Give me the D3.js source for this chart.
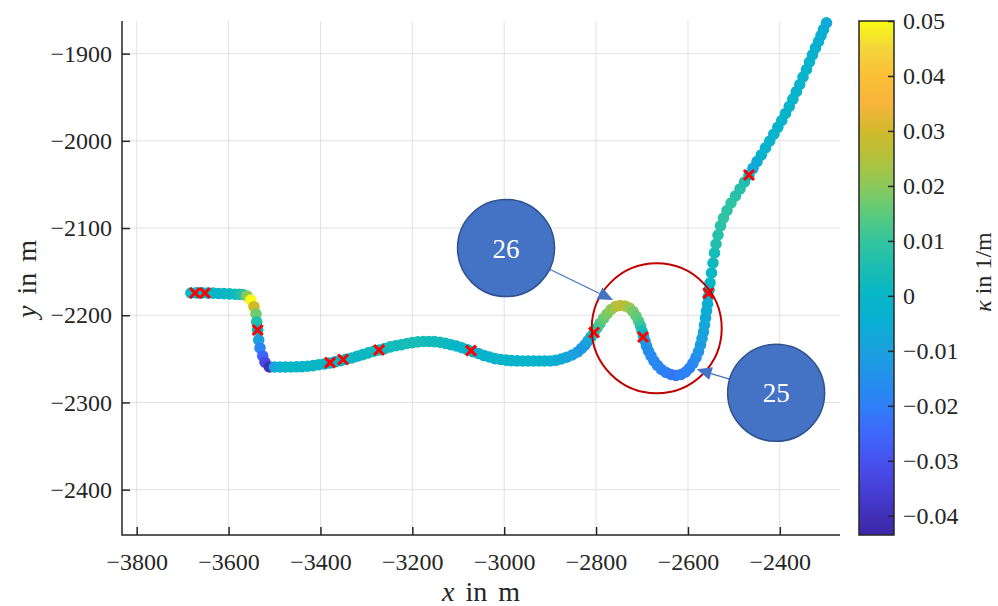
<!DOCTYPE html>
<html>
<head>
<meta charset="utf-8">
<script src="https://cdn.jsdelivr.net/npm/d3@7"></script>
<style>
body { margin: 0; background: #fff; }
svg { display: block; font-family: "Liberation Serif", "Times New Roman", serif; }
svg text { font-family: "Liberation Serif", serif !important; }
</style>
</head>
<body>
<div id="chart"></div>
<script>
// Trajectory samples: [x in m, y in m, curvature kappa in 1/m]
const track = [
	[-3682,-2174.5,0],[-3670,-2174.3,0],[-3658,-2174.3,0],[-3646,-2174.5,0],[-3634,-2174.7,0],
	[-3622,-2175.0,0],[-3610,-2175.2,0],[-3598,-2175.5,0.001],[-3586,-2175.9,0.002],[-3576,-2176.0,0.005],
	[-3568.6,-2176.2,0.008],[-3559.9,-2177.9,0.02],[-3551.8,-2182.5,0.05],[-3544.6,-2190.2,0.03],
	[-3540.3,-2198.6,0.017],[-3538.8,-2207.7,0.006],[-3536.6,-2216.9,0.0],[-3534.4,-2228.4,-0.01],
	[-3531.6,-2237.5,-0.018],[-3525.7,-2246.7,-0.026],[-3520.7,-2253.9,-0.032],[-3511.3,-2259.3,-0.04],
	[-3500,-2259.3,-0.009],[-3488,-2259.3,-0.004],[-3476,-2259.3,-0.001],[-3464,-2259.3,0],
	[-3452,-2259.1,0],[-3440,-2258.9,0],[-3428,-2258.5,0],[-3416,-2257.8,0],[-3404,-2256.8,0],
	[-3392,-2255.9,0],[-3380,-2254.8,0],[-3368,-2253.4,0],[-3356,-2252.0,0],[-3344,-2250.4,0],
	[-3332,-2249.0,0.001],[-3320,-2247.0,0.001],[-3308,-2245.2,0.001],[-3296,-2243.2,0.001],
	[-3284,-2241.3,0.002],[-3272,-2239.8,0.002],[-3260,-2238.2,0.002],[-3248,-2236.3,0.003],
	[-3236,-2235.0,0.003],[-3224,-2233.9,0.003],[-3212,-2232.4,0.004],[-3200,-2231.4,0.004],
	[-3188,-2230.6,0.004],[-3176,-2230.1,0.004],[-3164,-2230.1,0.003],[-3152,-2230.3,0.003],
	[-3140,-2230.9,0.003],[-3128,-2232.3,0.002],[-3116,-2233.8,0.001],[-3104,-2235.3,0],
	[-3092,-2237.3,-0.001],[-3080,-2239.6,-0.002],[-3068,-2241.7,-0.003],[-3056,-2243.9,-0.003],
	[-3044,-2246.2,-0.003],[-3032,-2247.9,-0.003],[-3020,-2249.7,-0.002],[-3008,-2250.7,-0.002],
	[-2996,-2251.5,-0.001],[-2984,-2252.0,-0.001],[-2972,-2252.3,-0.001],[-2960,-2252.5,-0.001],
	[-2948,-2252.5,-0.001],[-2936,-2252.5,-0.001],[-2924,-2252.5,-0.002],[-2912,-2252.5,-0.002],
	[-2900,-2252.4,-0.003],[-2888,-2251.7,-0.004],[-2876,-2250.2,-0.006],[-2864,-2248.1,-0.008],
	[-2852,-2245.6,-0.01],[-2840,-2242.1,-0.011],[-2831.7,-2238.1,-0.012],[-2824.1,-2234.1,-0.012],
	[-2817.6,-2229.5,-0.01],[-2811.1,-2224.9,-0.004],[-2804.5,-2219.8,0.003],[-2798,-2214.6,0.008],
	[-2791.5,-2209.5,0.012],[-2783.8,-2203.7,0.016],[-2776.2,-2198.6,0.018],[-2767.5,-2193.4,0.02],
	[-2757.7,-2190.0,0.024],[-2747.9,-2188.8,0.027],[-2737.0,-2189.4,0.026],[-2727.2,-2191.7,0.022],
	[-2719.6,-2195.7,0.018],[-2713.1,-2200.9,0.016],[-2707.6,-2206.6,0.014],[-2703.3,-2212.3,0.01],
	[-2700.0,-2218.1,0.004],[-2696.8,-2223.8,-0.004],[-2693.5,-2229.5,-0.01],[-2690.2,-2235.3,-0.013],
	[-2685.9,-2241.0,-0.015],[-2680.4,-2246.7,-0.016],[-2673.9,-2252.5,-0.017],[-2666.3,-2257.6,-0.017],
	[-2657.6,-2262.2,-0.018],[-2647.8,-2265.6,-0.019],[-2636.9,-2267.9,-0.021],[-2626.0,-2269.1,-0.022],
	[-2615.1,-2267.9,-0.02],[-2605.3,-2265.1,-0.019],[-2596.6,-2260.5,-0.019],[-2589.0,-2254.8,-0.018],
	[-2582.5,-2248.4,-0.016],[-2577.0,-2241.6,-0.014],[-2572.7,-2234.1,-0.012],[-2569.4,-2226.7,-0.01],
	[-2566.1,-2219.2,-0.009],[-2564.0,-2211.2,-0.008],[-2561.8,-2203.1,-0.007],[-2559.6,-2195.1,-0.006],
	[-2557.4,-2187.1,-0.005],[-2555.9,-2179.1,-0.004],[-2554.1,-2171.0,-0.002],[-2551.9,-2163.0,0],
	[-2548.7,-2151.5,0.001],[-2545.4,-2140.1,0.002],[-2542.2,-2128.6,0.004],[-2538.9,-2118.3,0.006],
	[-2534.6,-2108.0,0.007],[-2529.1,-2097.6,0.008],[-2522.6,-2088.5,0.009],[-2515.0,-2079.9,0.009],
	[-2506.3,-2071.3,0.009],[-2496.5,-2063.2,0.008],[-2486.7,-2055.2,0.007],[-2476.9,-2047.2,0.006],
	[-2467.1,-2039.2,0.002],[-2458.4,-2031.5,-0.007],[-2449.7,-2023.9,-0.006],[-2440.3,-2016.2,-0.003],
	[-2431.2,-2008.2,-0.002],[-2422.0,-2000.2,-0.002],[-2413.1,-1992.4,-0.002],[-2404.4,-1984.5,-0.002],
	[-2395.9,-1976.7,-0.002],[-2387.6,-1968.6,-0.002],[-2379.4,-1960.6,-0.002],[-2371.7,-1952.2,-0.002],
	[-2364.1,-1943.7,-0.002],[-2356.7,-1935.4,-0.002],[-2349.5,-1926.8,-0.002],[-2342.1,-1918.2,-0.002],
	[-2335.4,-1909.6,-0.002],[-2328.9,-1901.5,-0.003],[-2322.3,-1893.5,-0.003],[-2315.8,-1886.1,-0.003],
	[-2310.3,-1879.2,-0.004],[-2304.9,-1872.3,-0.005],[-2298.4,-1864.8,-0.007]
];

// Red cross markers (segment borders)
const crossX = [-3673.1, -3651.3, -3536.6, -3379.2, -3350.9, -3272.5, -3072.3, -2804.5, -2697.8, -2555.7, -2467.1];
const crossY = [-2174.5, -2174.5, -2216.9, -2254.4, -2250.7, -2239.8, -2240.6, -2219.8, -2224.9, -2174.8, -2039.2];

// Ticks
const xTicks = [-3800, -3600, -3400, -3200, -3000, -2800, -2600, -2400];
const yTicks = [-2400, -2300, -2200, -2100, -2000, -1900];
const cTicks = [-0.04, -0.03, -0.02, -0.01, 0, 0.01, 0.02, 0.03, 0.04, 0.05];

// Colormap (parula-like) sampled from the colorbar
const kStops = [-0.0435, -0.04, -0.035, -0.03, -0.025, -0.02, -0.015, -0.01, -0.005, 0, 0.005, 0.01, 0.015, 0.02, 0.025, 0.03, 0.035, 0.04, 0.045, 0.05];
const kColors = ["#3e26a8", "#4130b8", "#4640d8", "#4752ee", "#3e68fb", "#2f7ff8", "#2290ea", "#1ba1de", "#0aaed4", "#06b6c6",
	"#1bbdb2", "#33c49e", "#5cca7c", "#8cc95a", "#b2c23c", "#d2b92c", "#f7b53c", "#fbbf38", "#f3d53a", "#f9fb15"];

// Annotations
const ringCenter = [-2668, -2215];
const callouts = [
	{ label: "26", x: -2996, y: -2123, tipX: -2763, tipY: -2182.5 },
	{ label: "25", x: -2408, y: -2289, tipX: -2581, tipY: -2262 }
];

const width = 998, height = 606;
const plot = { left: 122, right: 840, top: 21, bottom: 535 };
const bar = { left: 859, right: 894 };

const x = d3.scaleLinear().domain([-3832, -2269]).range([plot.left, plot.right]);
const y = d3.scaleLinear().domain([-2452, -1862.6]).range([plot.bottom, plot.top]);
const c = d3.scaleLinear().domain([-0.0435, 0.05]).range([plot.bottom, plot.top]);
const color = d3.scaleLinear().domain(kStops).range(kColors).interpolate(d3.interpolateRgb).clamp(true);

const svg = d3.select("#chart").append("svg")
	.attr("width", width)
	.attr("height", height)
	.attr("viewBox", [0, 0, width, height]);

const axisColor = "#262626";

// Grid
const grid = svg.append("g").attr("stroke", "#e2e2e2").attr("stroke-width", 1);
grid.selectAll(".gx").data(xTicks).join("line")
	.attr("x1", d => x(d)).attr("x2", d => x(d))
	.attr("y1", plot.top).attr("y2", plot.bottom);
grid.selectAll(".gy").data(yTicks).join("line")
	.attr("y1", d => y(d)).attr("y2", d => y(d))
	.attr("x1", plot.left).attr("x2", plot.right);

// Trajectory dots
svg.append("g")
	.selectAll("circle")
	.data(track)
	.join("circle")
	.attr("cx", d => x(d[0]))
	.attr("cy", d => y(d[1]))
	.attr("r", 5.8)
	.attr("fill", d => color(d[2]));

// Red crosses
svg.append("g")
	.attr("stroke", "#ff0000")
	.attr("stroke-width", 3)
	.attr("fill", "none")
	.selectAll("path")
	.data(crossX.map((v, i) => [v, crossY[i]]))
	.join("path")
	.attr("transform", d => `translate(${x(d[0])},${y(d[1])})`)
	.attr("d", "M-5,-5L5,5M-5,5L5,-5");

// Axes (left + bottom, ticks pointing inward)
const xAxis = d3.axisBottom(x).tickValues(xTicks).tickSize(-8).tickFormat(d3.format(""));
const yAxis = d3.axisLeft(y).tickValues(yTicks).tickSize(-8).tickFormat(d3.format(""));

const gx = svg.append("g").attr("transform", `translate(0,${plot.bottom})`).call(xAxis);
const gy = svg.append("g").attr("transform", `translate(${plot.left},0)`).call(yAxis);
[gx, gy].forEach(g => {
	g.attr("font-family", null).attr("font-size", 24);
	g.select(".domain").remove();
	g.selectAll(".tick line").attr("stroke", axisColor).attr("stroke-width", 1.5);
	g.selectAll(".tick text").attr("fill", axisColor);
});
gx.selectAll(".tick text").attr("dy", null).attr("y", 35);
gy.selectAll(".tick text").attr("dy", "0.32em").attr("x", -10);

svg.append("path")
	.attr("d", `M${plot.left},${plot.top}V${plot.bottom}H${plot.right}`)
	.attr("fill", "none").attr("stroke", axisColor).attr("stroke-width", 1.5);

// Axis labels
svg.append("text")
	.attr("x", 481).attr("y", 601)
	.attr("text-anchor", "middle")
	.attr("fill", axisColor)
	.attr("font-size", 28)
	.attr("word-spacing", 4)
	.html('<tspan font-style="italic">x</tspan> in m');

svg.append("text")
	.attr("transform", "translate(36,279) rotate(-90)")
	.attr("text-anchor", "middle")
	.attr("fill", axisColor)
	.attr("font-size", 28)
	.attr("word-spacing", 4)
	.html('<tspan font-style="italic">y</tspan> in m');

// Colorbar
const defs = svg.append("defs");
const grad = defs.append("linearGradient")
	.attr("id", "kgrad")
	.attr("x1", 0).attr("y1", 1).attr("x2", 0).attr("y2", 0);
grad.selectAll("stop")
	.data(kStops)
	.join("stop")
	.attr("offset", d => (d - kStops[0]) / (kStops[kStops.length - 1] - kStops[0]))
	.attr("stop-color", d => color(d));

svg.append("rect")
	.attr("x", bar.left).attr("y", plot.top)
	.attr("width", bar.right - bar.left).attr("height", plot.bottom - plot.top)
	.attr("fill", "url(#kgrad)")
	.attr("stroke", axisColor).attr("stroke-width", 1.5);

const cAxis = d3.axisRight(c).tickValues(cTicks).tickSize(-6)
	.tickFormat(d => d === 0 ? "0" : d3.format(".2f")(d));
const gc = svg.append("g").attr("transform", `translate(${bar.right},0)`).call(cAxis);
gc.attr("font-family", null).attr("font-size", 24);
gc.select(".domain").remove();
gc.selectAll(".tick line").attr("stroke", axisColor).attr("stroke-width", 1.5);
gc.selectAll(".tick text").attr("fill", axisColor).attr("x", 9).attr("dy", "0.32em");

svg.append("text")
	.attr("transform", "translate(991,272) rotate(-90)")
	.attr("text-anchor", "middle")
	.attr("fill", axisColor)
	.attr("font-size", 24)
	.html('<tspan font-style="italic">κ</tspan> in 1/m');

// Red ring around the S-curve
svg.append("circle")
	.attr("cx", x(ringCenter[0])).attr("cy", y(ringCenter[1]))
	.attr("r", 65)
	.attr("fill", "none")
	.attr("stroke", "#c00000")
	.attr("stroke-width", 2);

// Callouts
const calloutR = 48.5;
callouts.forEach(d => {
	const cx = x(d.x), cy = y(d.y), tx = x(d.tipX), ty = y(d.tipY);
	const len = Math.hypot(tx - cx, ty - cy);
	const ux = (tx - cx) / len, uy = (ty - cy) / len;
	const nx = -uy, ny = ux;
	const headL = 15, headW = 6.5;
	const bx = tx - headL * ux, by = ty - headL * uy;

	svg.append("line")
		.attr("x1", cx + calloutR * ux).attr("y1", cy + calloutR * uy)
		.attr("x2", bx).attr("y2", by)
		.attr("stroke", "#4472c4").attr("stroke-width", 1.2);
	svg.append("path")
		.attr("d", `M${tx},${ty}L${bx + headW * nx},${by + headW * ny}L${bx - headW * nx},${by - headW * ny}Z`)
		.attr("fill", "#4472c4");

	svg.append("circle")
		.attr("cx", cx).attr("cy", cy).attr("r", calloutR)
		.attr("fill", "#4472c4")
		.attr("stroke", "#2f528f").attr("stroke-width", 1.5);
	svg.append("text")
		.attr("x", cx).attr("y", cy)
		.attr("dy", "0.35em")
		.attr("text-anchor", "middle")
		.attr("fill", "#ffffff")
		.attr("font-size", 27)
		.text(d.label);
});
</script>
</body>
</html>
